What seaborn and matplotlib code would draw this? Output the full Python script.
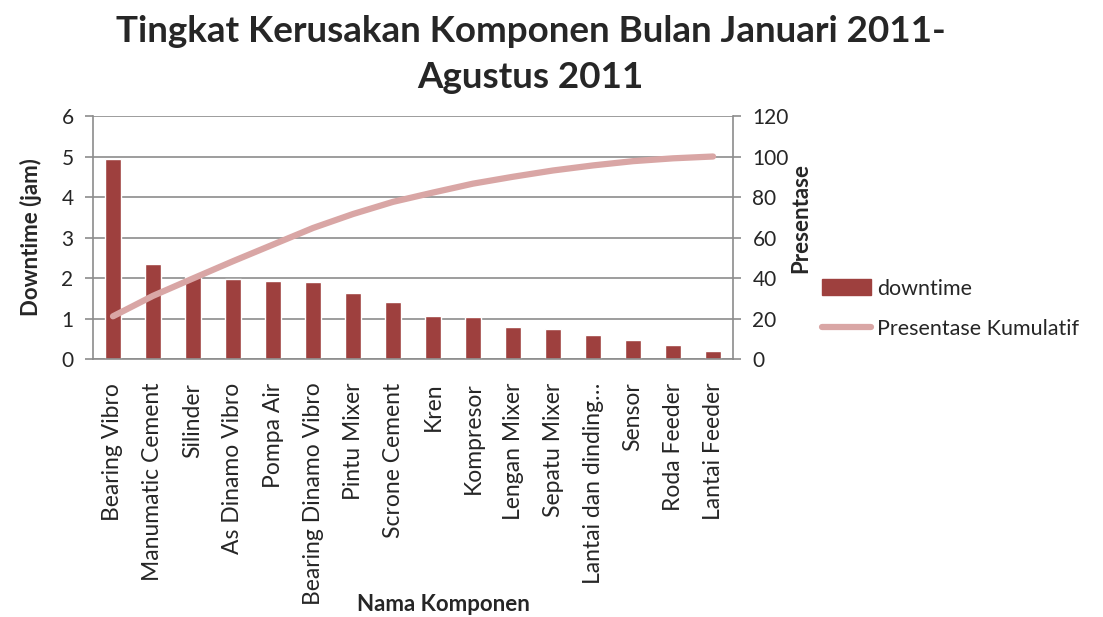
import numpy as np
import matplotlib
matplotlib.use("Agg")
import matplotlib.pyplot as plt
import seaborn as sns
from matplotlib.patches import Patch
from matplotlib.lines import Line2D

komponen = [
    "Bearing Vibro", "Manumatic Cement", "Silinder", "As Dinamo Vibro",
    "Pompa Air", "Bearing Dinamo Vibro", "Pintu Mixer", "Scrone Cement",
    "Kren", "Kompresor", "Lengan Mixer", "Sepatu Mixer",
    "Lantai dan dinding…", "Sensor", "Roda Feeder", "Lantai Feeder",
]
downtime = [4.93, 2.34, 2.03, 1.97, 1.92, 1.90, 1.63, 1.40,
            1.06, 1.04, 0.79, 0.73, 0.59, 0.47, 0.34, 0.20]
kumulatif = [21.1, 31.2, 39.8, 48.3, 56.5, 64.7, 71.6, 77.6,
             82.2, 86.6, 90.0, 93.1, 95.6, 97.7, 99.1, 100.0]

bar_color = "#9E403E"
line_color = "#D9A6A5"
grid_color = "#8C8C8C"

sns.set_style("white")
plt.rcParams["font.family"] = ["Lato", "DejaVu Sans"]

fig = plt.figure(figsize=(11.03, 6.17), dpi=100)
ax = fig.add_axes([0.0843, 0.4181, 0.5803, 0.3939])

sns.barplot(x=komponen, y=downtime, color=bar_color, width=0.4,
            saturation=1, ax=ax)
ax.set_ylim(0, 6)
ax.set_xlim(-0.5, len(komponen) - 0.5)
ax.set_yticks(range(0, 7))
ax.yaxis.grid(True, color=grid_color, linewidth=1.2)
ax.set_axisbelow(True)
for s in ["top", "right"]:
    ax.spines[s].set_visible(False)
for s in ["left", "bottom"]:
    ax.spines[s].set_color(grid_color)
    ax.spines[s].set_linewidth(1.2)

ax.tick_params(axis="x", which="major", length=0, labelsize=16.5, rotation=90, pad=17)
ax.set_xticks(np.arange(len(komponen) - 1) + 0.5, minor=True)
ax.tick_params(axis="x", which="minor", length=7, color=grid_color, width=1.2)
ax.tick_params(axis="y", length=6, color=grid_color, width=1.2, labelsize=15, pad=8)
ax.set_xlabel("Nama Komponen", fontsize=16, fontweight="bold")
ax.xaxis.set_label_coords(0.547, -0.968)
ax.set_ylabel("Downtime (jam)", fontsize=16, fontweight="bold", labelpad=14)

ax2 = ax.twinx()
sns.lineplot(x=np.arange(len(komponen)), y=kumulatif, color=line_color,
             linewidth=4.5, solid_capstyle="round", ax=ax2)
ax2.set_ylim(0, 120)
ax2.set_yticks(range(0, 121, 20))
ax2.set_xlim(-0.5, len(komponen) - 0.5)
for s in ["top", "left", "bottom"]:
    ax2.spines[s].set_visible(False)
ax2.spines["right"].set_color(grid_color)
ax2.spines["right"].set_linewidth(1.2)
ax2.tick_params(axis="y", length=6, color=grid_color, width=1.2, labelsize=15, pad=8)
ax2.set_ylabel("Presentase", fontsize=16, fontweight="bold")
ax2.yaxis.set_label_coords(1.09, 0.582)

handles = [
    Patch(facecolor=bar_color, edgecolor=bar_color),
    Line2D([0], [0], color=line_color, linewidth=4.5),
]
fig.legend(handles, ["downtime", "Presentase Kumulatif"],
           loc="upper left", bbox_to_anchor=(0.728, 0.58), frameon=False,
           fontsize=15.5, handlelength=2.25, handletextpad=0.3, labelspacing=0.95)

fig.text(0.481, 0.975, "Tingkat Kerusakan Komponen Bulan Januari 2011-\nAgustus 2011",
         ha="center", va="top", fontsize=26.5, fontweight="bold", linespacing=1.45)

fig.savefig("out.png", dpi=100)
